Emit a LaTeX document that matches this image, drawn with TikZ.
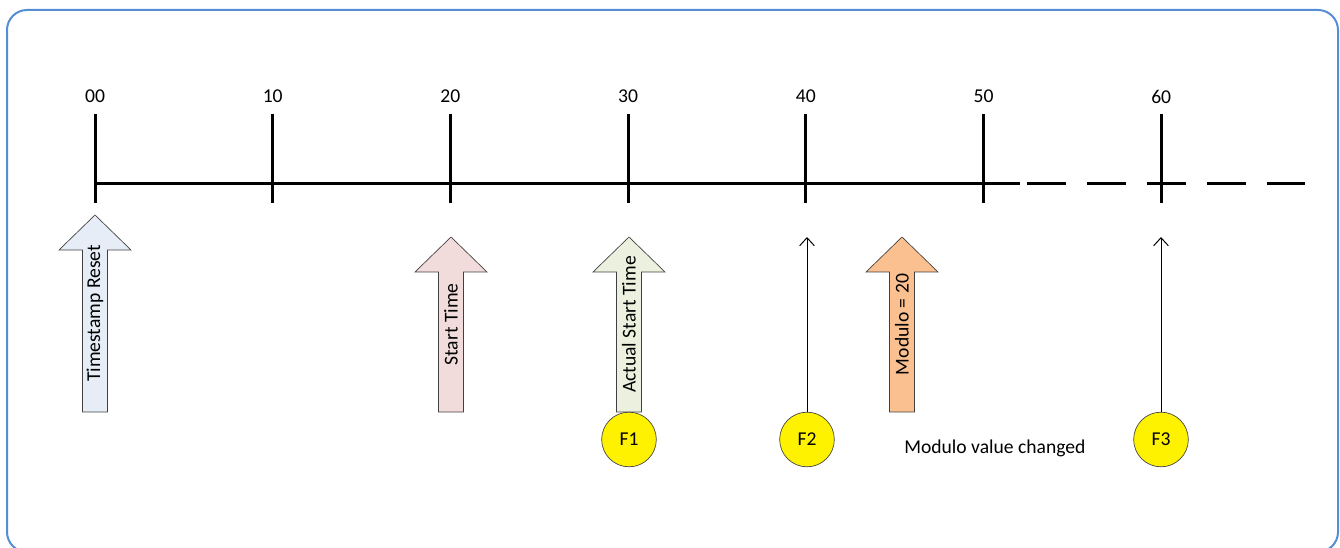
\documentclass[tikz,border=0pt]{standalone}
\usepackage{fontspec}
\setmainfont{Carlito}
\usepackage{tikz}
\usetikzlibrary{arrows.meta,positioning,calc}
\usepackage{xcolor}
\definecolor{framecol}{RGB}{85,142,213}
\definecolor{resetfill}{RGB}{230,237,246}
\definecolor{startfill}{RGB}{242,220,219}
\definecolor{actualfill}{RGB}{235,241,222}
\definecolor{modfill}{RGB}{250,192,144}

\tikzset{
  every node/.style={font=\fontsize{14.7}{17}\selectfont},
  axisline/.style={line width=2.25pt},
  blockarrow/.style={draw=black!75, line width=0.5pt},
  fcircle/.style={circle, draw=black!75, line width=0.5pt, fill=yellow, minimum size=41pt, inner sep=0pt},
  thinarrow/.style={line width=0.75pt, -{Straight Barb[length=6pt,width=11pt]}}
}

\begin{document}
\begin{tikzpicture}[x=0.75pt, y=-0.75pt]
    \useasboundingbox (0,0) rectangle (1340,548);
    \draw[framecol, line width=1.5pt, rounded corners=15pt] (7,10) rectangle (1338,552);
    % time axis
    \draw[axisline] (95,184) -- (1020,184);
    \draw[axisline, dash pattern=on 29.25pt off 15.75pt] (1027,184) -- (1305,184);
    \foreach \i/\lab in {0/00,1/10,2/20,3/30,4/40,5/50,6/60} {
        \draw[axisline] (95+177.7*\i,114) -- (95+177.7*\i,203);
        \node (lab\i) at (95+177.7*\i,96.5) {\lab};
    }
    % block arrows
    \foreach \x/\ytip/\col/\name/\txt in {95/215/resetfill/ts/{Timestamp Reset},
                                          451/237/startfill/st/{Start Time},
                                          629/237/actualfill/ast/{Actual Start Time},
                                          902/237/modfill/mod/{Modulo = 20}} {
        \draw[blockarrow, fill=\col] (\x,\ytip) -- (\x+36,\ytip+35) -- (\x+12.5,\ytip+35)
            -- (\x+12.5,412) -- (\x-12.5,412) -- (\x-12.5,\ytip+35) -- (\x-36,\ytip+35) -- cycle;
        \node[rotate=90] (\name) at (\x,{(\ytip+412)/2}) {\txt};
    }
    % frames
    \node[fcircle] (f1) at (629,439.5) {F1};
    \node[fcircle] (f2) at (807,439.5) {F2};
    \node[fcircle] (f3) at (1161,439.5) {F3};
    \coordinate (f2tip) at (807,237);
    \coordinate (f3tip) at (1161,237);
    \draw[thinarrow] (f2) -- (f2tip);
    \draw[thinarrow] (f3) -- (f3tip);
    \node[anchor=west, inner sep=0pt] (modtxt) at (904,448) {Modulo value changed};
\end{tikzpicture}
\end{document}
